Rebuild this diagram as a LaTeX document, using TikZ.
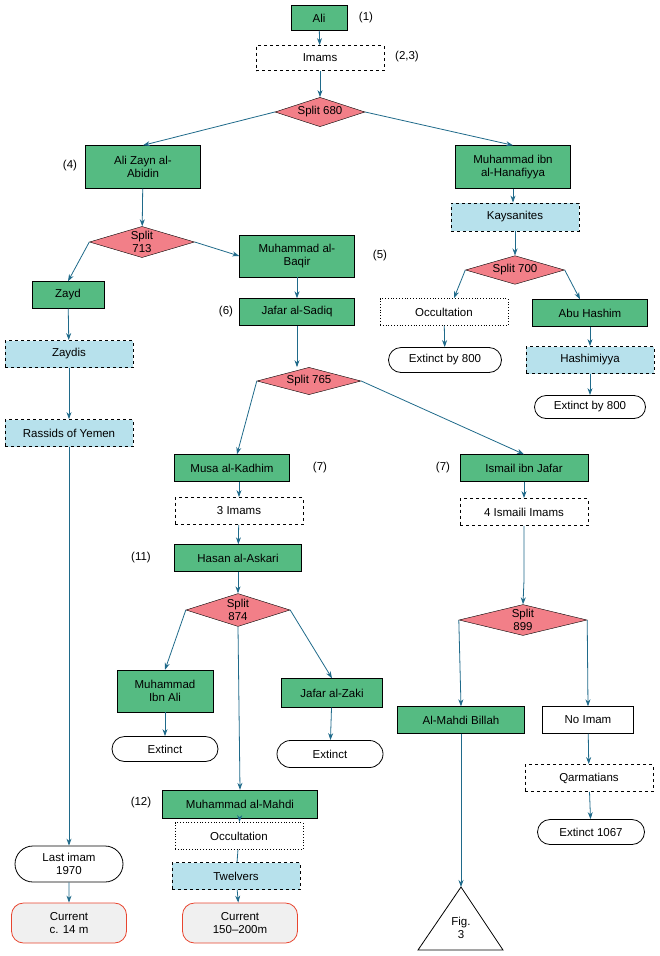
\documentclass[tikz,border=0pt]{standalone}
\usepackage{fontspec}
\setmainfont{Liberation Sans}
\usetikzlibrary{shapes.geometric,shapes.misc,arrows.meta}
\definecolor{gr}{HTML}{55BB82}
\definecolor{rd}{HTML}{F27F88}
\definecolor{lb}{HTML}{B7E1EC}
\definecolor{ar}{HTML}{1F6A8A}
\definecolor{cur}{HTML}{E8452F}
\begin{document}
\begin{tikzpicture}[x=1pt,y=-1pt,font=\fontsize{11.5}{13}\selectfont,
 every node/.style={align=center,inner sep=1pt},
 g/.style={draw,fill=gr,minimum width=#1,minimum height=27pt},
 g/.default=115pt,
 d/.style={draw,dashed,thick,minimum width=128pt,minimum height=27pt},
 db/.style={d,fill=lb},
 o/.style={draw,dotted,thick,minimum width=128pt,minimum height=27pt},
 t/.style={draw,thick,rounded rectangle,minimum width=#1,minimum height=25pt},
 t/.default=110pt,
 c/.style={draw=cur,thick,fill=black!6,rounded corners=12pt,minimum width=115pt,minimum height=40pt},
 s/.style={draw,fill=rd,diamond,inner sep=0pt,minimum width=#1},
 e/.style={draw=ar,thick,-{Stealth[length=7pt,width=5pt]}},
 n/.style={}]
\path[use as bounding box] (0,0) rectangle (659,956);
\node[g=56pt,minimum height=25pt] (ali) at (319,18) {Ali};
\node[n] at (366,18) {(1)};
\node[d,minimum height=25pt] (imams) at (320,58) {Imams};
\node[n] at (407,57) {(2,3)};
\node[s=90pt,aspect=2.4] (s680) at (320,112) {Split 680};
\node[g,minimum height=43pt] (zayn) at (143,167) {Ali Zayn al-\\Abidin};
\node[n] at (70,166) {(4)};
\node[g,minimum height=43pt] (hanaf) at (513,167) {Muhammad ibn\\al-Hanafiyya};
\node[db,minimum height=28pt] (kays) at (515,217) {Kaysanites};
\node[s=105pt,aspect=2.3] (s713) at (142,242) {Split\\713};
\node[g,minimum height=42pt] (baqir) at (297,256) {Muhammad al-\\Baqir};
\node[n] at (380,256) {(5)};
\node[s=99pt,aspect=2.5] (s700) at (515,270) {Split 700};
\node[g=72pt] (zayd) at (68,295) {Zayd};
\node[g] (jafar) at (297,312) {Jafar al-Sadiq};
\node[n] at (226,312) {(6)};
\node[o] (occ1) at (444,312) {Occultation};
\node[g] (abu) at (590,313) {Abu Hashim};
\node[db] (zaydis) at (69,354) {Zaydis};
\node[t=115pt] (ex1) at (445,360) {Extinct by 800};
\node[db=126pt] (hash) at (590,360) {Hashimiyya};
\node[s=104pt,aspect=2.7] (s765) at (309,381) {Split 765};
\node[db] (rass) at (69,433) {Rassids of Yemen};
\node[t=113pt,minimum height=23pt] (ex2) at (590,407) {Extinct by 800};
\node[g] (musa) at (232,468) {Musa al-Kadhim};
\node[n] at (320,468) {(7)};
\node[g=128pt] (ism) at (524,468) {Ismail ibn Jafar};
\node[n] at (443,468) {(7)};
\node[d] (im3) at (239,511) {3 Imams};
\node[d] (im4) at (524,512) {4 Ismaili Imams};
\node[g=127pt] (hasan) at (238,558) {Hasan al-Askari};
\node[n] at (141,558) {(11)};
\node[s=104pt,aspect=1.95] (s874) at (238,610) {Split\\874};
\node[s=128pt,aspect=2.35] (s899) at (523,620) {Split\\899};
\node[g=96pt,minimum height=42pt] (mia) at (165,691) {Muhammad\\Ibn Ali};
\node[g=101pt,minimum height=29pt] (zaki) at (332,693) {Jafar al-Zaki};
\node[g=127pt] (billah) at (461,720) {Al-Mahdi Billah};
\node[draw,minimum width=91pt,minimum height=27pt] (noim) at (588,720) {No Imam};
\node[t=108pt] (ex3) at (165,749) {Extinct};
\node[t=108pt,minimum height=27pt] (ex4) at (330,754) {Extinct};
\node[d] (qarm) at (589,778) {Qarmatians};
\node[g=155pt,minimum height=28pt] (mahdi) at (240,804) {Muhammad al-Mahdi};
\node[n] at (141,803) {(12)};
\node[t=109pt] (ex5) at (591,832) {Extinct 1067};
\node[o] (occ2) at (239,836) {Occultation};
\node[db] (twel) at (236,876) {Twelvers};
\node[t=110pt,minimum height=36pt] (last) at (69,864) {Last imam\\1970};
\node[c] (cur1) at (69,923) {Current\\c. 14 m};
\node[c] (cur2) at (240,923) {Current\\150–200m};
\coordinate (apex) at (461,887);
\draw[thick] (apex) -- (418,950) -- (503,950) -- cycle;
\node at (461,928) {Fig.\\3};
% edges
\draw[e] (ali) -- (imams);
\draw[e] (imams) -- (s680);
\draw[e] (s680.west) -- (zayn.north);
\draw[e] (s680.east) -- (hanaf.north);
\draw[e] (hanaf) -- (kays.north -| hanaf);
\draw[e] (kays) -- (s700);
\draw[e] (s700.west) -- ([xshift=10pt]occ1.north);
\draw[e] (s700.east) -- ([xshift=-10pt]abu.north);
\draw[e] (zayn) -- (s713);
\draw[e] (s713.west) -- (zayd.north);
\draw[e] (s713.east) -- (baqir.west);
\draw[e] (baqir) -- (jafar);
\draw[e] (jafar) -- (jafar |- s765.north);
\draw[e] (occ1) -- (ex1);
\draw[e] (abu) -- (hash);
\draw[e] (hash) -- (ex2);
\draw[e] (zayd) -- (zaydis);
\draw[e] (zaydis) -- (rass);
\draw[e] (rass) -- (last);
\draw[e] (last) -- (cur1);
\draw[e] (s765.west) -- ([xshift=5pt]musa.north);
\draw[e] (s765.east) -- (ism.north);
\draw[e] (musa.south -| im3) -- (im3);
\draw[e] (ism) -- (im4);
\draw[e] (im3) -- (hasan);
\draw[e] (hasan) -- (s874);
\draw[e] (im4.south) -- (524,580) -- (s899.north);
\draw[e] (s874.west) -- (mia.north);
\draw[e] (s874.east) -- (zaki.north);
\draw[e] (s874.south) -- (mahdi.north);
\draw[e] (mia) -- (ex3);
\draw[e] (zaki) -- (ex4);
\draw[e] (s899.west) -- (billah.north);
\draw[e] (s899.east) -- (noim.north);
\draw[e] (noim) -- (qarm);
\draw[e] (qarm) -- (ex5);
\draw[e] (billah) -- (apex);
\draw[e] (mahdi) -- (occ2);
\draw[draw=ar,thick] (occ2) -- (twel);
\draw[e] (twel) -- (cur2);
\end{tikzpicture}
\end{document}
